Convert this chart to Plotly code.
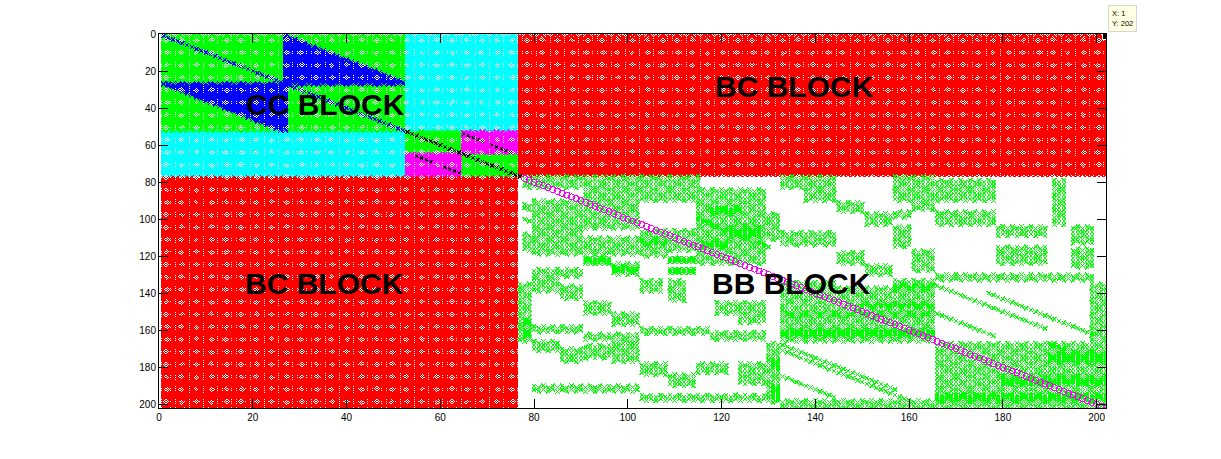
import plotly.graph_objects as go

# Matrix order and block boundaries
N = 202
TICKS_X = [0, 20, 40, 60, 80, 100, 120, 140, 160, 180, 200]
TICKS_Y = [0, 20, 40, 60, 80, 100, 120, 140, 160, 180, 200]

# (col start, col end, row start, row end)
RED_BLOCKS = [(77, 203, 1, 77), (1, 77, 77, 203)]
CYAN_BLOCKS = [(53, 77, 1, 53), (1, 53, 53, 77)]
GREEN_BLOCKS = [(1, 53, 1, 53), (53, 65, 53, 65), (65, 77, 65, 77)]
MAGENTA_BLOCKS = [(65, 77, 53, 65), (53, 65, 65, 77)]
BLUE_UPPER_COL = (27, 53)
BLUE_LOWER_ROW = (27, 53)

# sparse BB pattern: (col start, col end, row start, row end, stride)
BB_PATCHES = [
    (78, 116, 77, 84, 2), (80, 91, 90, 120, 2), (91, 103, 84, 106, 2), (103, 115, 84, 91, 2),
    (78, 80, 92, 96, 2), (78, 80, 108, 118, 2), (91, 103, 110, 120, 2),
    (103, 109, 106, 121, 2), (103, 109, 111, 114, 1), (91, 97, 121, 125, 1), (97, 103, 124, 131, 2),
    (97, 103, 126, 129, 1), (109, 115, 121, 124, 1), (109, 115, 127, 130, 1), (109, 115, 106, 118, 2),
    (80, 91, 127, 132, 2), (80, 86, 132, 140, 2), (86, 91, 136, 144, 2),
    (77, 80, 135, 167, 2), (78, 80, 155, 165, 1), (91, 97, 145, 152, 2), (97, 103, 151, 158, 2),
    (80, 91, 158, 162, 2), (103, 118, 159, 163, 2), (118, 130, 161, 166, 2),
    (91, 103, 162, 166, 2), (80, 86, 166, 172, 2), (86, 91, 170, 178, 2),
    (91, 97, 168, 176, 2), (97, 103, 166, 178, 2), (103, 109, 178, 185, 2),
    (109, 115, 184, 191, 2), (80, 103, 190, 194, 2), (103, 115, 195, 199, 2),
    (115, 130, 195, 199, 2), (115, 122, 178, 184, 2), (124, 130, 178, 190, 2),
    (119, 130, 145, 152, 2), (124, 130, 152, 157, 2), (103, 108, 133, 140, 2),
    (109, 113, 133, 145, 2), (115, 130, 84, 98, 2), (115, 130, 98, 125, 2),
    (118, 125, 94, 98, 1), (122, 129, 104, 110, 1), (116, 122, 112, 116, 1),
    (130, 133, 97, 112, 2), (130, 133, 167, 200, 2), (131, 133, 176, 182, 1), (131, 133, 190, 198, 1),
    (133, 145, 77, 84, 2), (138, 145, 84, 91, 2), (145, 151, 91, 97, 2),
    (151, 157, 97, 104, 2), (157, 161, 104, 116, 2), (133, 145, 107, 115, 2),
    (145, 151, 118, 125, 2), (151, 157, 125, 131, 2), (157, 166, 77, 91, 2),
    (157, 161, 96, 100, 2), (161, 166, 90, 96, 2), (161, 166, 117, 129, 2),
    (166, 179, 79, 91, 2), (166, 179, 96, 104, 2), (179, 190, 104, 110, 2),
    (179, 190, 115, 125, 2), (191, 194, 79, 104, 2), (195, 200, 104, 114, 2),
    (195, 200, 116, 127, 2), (166, 200, 130, 134, 2), (133, 166, 146, 167, 2),
    (133, 166, 160, 164, 1), (133, 166, 151, 153, 1), (150, 166, 146, 148, 1),
    (157, 166, 133, 146, 2), (157, 166, 136, 139, 1), (145, 157, 137, 146, 2), (133, 145, 134, 146, 2),
    (166, 203, 167, 203, 2), (166, 203, 195, 199, 1), (180, 203, 185, 190, 1), (190, 203, 172, 178, 1),
    (199, 203, 135, 167, 2), (133, 166, 198, 203, 2),
]
# sparse BB diagonals: (start col, start row, length)
BB_DIAGONALS = [
    (133, 168, 25), (133, 171, 33), (133, 185, 12), (166, 136, 24),
    (166, 151, 13), (177, 140, 23), (78, 100, 14), (115, 100, 16),
    (190, 167, 12),
]
MAIN_BLUE = (1, 53)
MAIN_BLACK = (53, 78)
MAIN_MAGENTA = (78, 203)
BLACK_SHORT = [(65, 54, 5), (71, 60, 5), (55, 66, 4), (61, 72, 4)]

def block(rects):
    xs, ys = [], []
    for c0, c1, r0, r1 in rects:
        for c in range(c0, c1):
            for r in range(r0, r1):
                xs.append(c); ys.append(r)
    return xs, ys

rx, ry = block(RED_BLOCKS)
cx, cy = block(CYAN_BLOCKS)
mx, my = block(MAGENTA_BLOCKS)

bx, by, gx, gy = [], [], [], []
gx0, gy0 = block(GREEN_BLOCKS)
for c, r in zip(gx0, gy0):
    upper = BLUE_UPPER_COL[0] <= c < BLUE_UPPER_COL[1] and r <= 27 and (r - 1) >= (c - 27)
    lower = BLUE_LOWER_ROW[0] <= r < BLUE_LOWER_ROW[1] and c <= 27 and (c - 1) >= (r - 27)
    if upper or lower:
        bx.append(c); by.append(r)
    else:
        gx.append(c); gy.append(r)

seen = set()
for c0, c1, r0, r1, s in BB_PATCHES:
    for c in range(c0, min(c1, N + 1)):
        for r in range(r0, min(r1, N + 1)):
            if (c + r) % s == 0:
                seen.add((c, r))
for c0, r0, n in BB_DIAGONALS:
    for i in range(n):
        seen.add((c0 + i, r0 + i))
sx = [p[0] for p in seen]
sy = [p[1] for p in seen]

fig = go.Figure()
def spy(x, y, color, size=4.8, symbol="x-thin", width=1):
    fig.add_trace(go.Scatter(x=x, y=y, mode="markers", hoverinfo="skip", showlegend=False,
        marker=dict(symbol=symbol, size=size, color=color, line=dict(color=color, width=width))))

spy(rx, ry, "#ff0000")
spy(cx, cy, "#00ffff")
spy(gx, gy, "#00ff00")
spy(bx, by, "#0000ff")
spy(mx, my, "#ff00ff")
spy(sx, sy, "#00ff00", size=4.4)
d = list(range(*MAIN_BLUE))
spy(d, d, "#0000ff", size=4)
d = list(range(*MAIN_BLACK))
spy(d, d, "#000000", size=4)
kx, ky = [], []
for c0, r0, n in BLACK_SHORT:
    kx += list(range(c0, c0 + n)); ky += list(range(r0, r0 + n))
spy(kx, ky, "#000000", size=3)
d = list(range(*MAIN_MAGENTA))
spy(d, d, "#ff00ff", size=6, symbol="circle-open")
fig.add_trace(go.Scatter(x=[202], y=[1], mode="markers", hoverinfo="skip", showlegend=False,
    marker=dict(symbol="square", size=7, color="#000000", line=dict(color="#ffffe1", width=1))))

LABELS = [("CC BLOCK", 35.6, 38), ("BC BLOCK", 135.5, 28.5), ("BC BLOCK", 35.3, 135), ("BB BLOCK", 135, 135)]
for t, x, y in LABELS:
    fig.add_annotation(x=x, y=y, text="<b>" + t + "</b>", showarrow=False,
        font=dict(family="Liberation Sans", size=30, color="#000000"))

fig.add_annotation(xref="paper", yref="paper", x=1.002, y=1.041, xanchor="left", yanchor="middle",
    text="X: 1<br>Y: 202", showarrow=False, align="left", bgcolor="#ffffe1", bordercolor="#d4d4d4",
    borderwidth=1, borderpad=3, font=dict(family="Liberation Sans", size=7.5, color="#000000"))

axis = dict(range=[0, 202], showgrid=False, zeroline=False, showline=True, linecolor="#000000",
    linewidth=1, mirror="ticks", ticks="inside", ticklen=9, tickcolor="#000000",
    tickfont=dict(family="Liberation Sans", size=10, color="#000000"))
fig.update_layout(width=1221, height=459, paper_bgcolor="#ffffff", plot_bgcolor="#ffffff",
    margin=dict(l=159, r=115, t=34, b=51), showlegend=False, autosize=False,
    xaxis=dict(axis, tickvals=TICKS_X), yaxis=dict(axis, tickvals=TICKS_Y, range=[202, 0]))

fig.write_html("out.html", config={"displayModeBar": False}, post_script=(
    "document.body.style.margin='0';"
    "var s=document.createElement('style');"
    "s.textContent='.points path{shape-rendering:crispEdges}"
    ".annotation-text b{stroke:#000;stroke-width:0.5px}';"
    "document.head.appendChild(s);"))
